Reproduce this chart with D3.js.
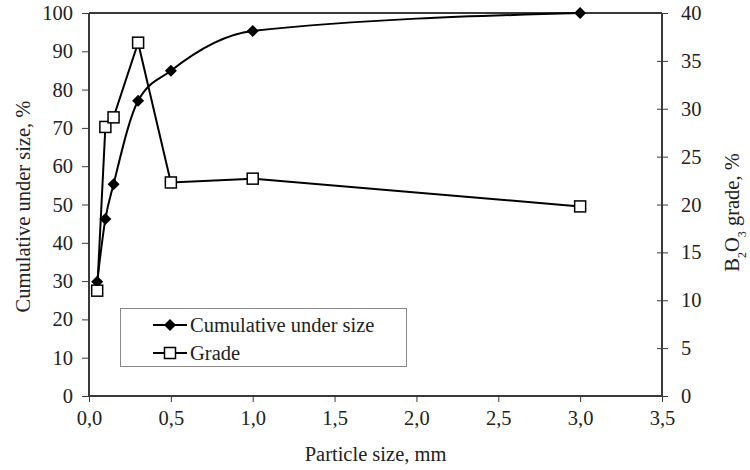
<!DOCTYPE html>
<html>
<head>
<meta charset="utf-8">
<script src="https://cdn.jsdelivr.net/npm/d3@7"></script>
<style>
  html, body { margin: 0; padding: 0; background: #fff; }
  svg { display: block; font-family: "Liberation Serif", "Times New Roman", serif; }
</style>
</head>
<body>
<svg id="chart" width="750" height="470"></svg>
<script>
// ---- data ----
const sizes = [0.05, 0.1, 0.15, 0.3, 0.5, 1.0, 3.0];
const cumulative = [29.8, 46.2, 55.3, 77.1, 84.9, 95.3, 100];
const grade = [11.0, 28.1, 29.1, 36.9, 22.3, 22.7, 19.8];
const xTicks = [0, 0.5, 1.0, 1.5, 2.0, 2.5, 3.0, 3.5];
const yLeftTicks = [0, 10, 20, 30, 40, 50, 60, 70, 80, 90, 100];
const yRightTicks = [0, 5, 10, 15, 20, 25, 30, 35, 40];
const seriesNames = ["Cumulative under size", "Grade"];

const svg = d3.select("#chart");
const L = 89, R = 662, T = 13, B = 396;
const axisColor = "#3a3a3a";
const textColor = "#222";
const fs = 20.5;

const x = d3.scaleLinear().domain([0, 3.5]).range([L, R]);
const yL = d3.scaleLinear().domain([0, 100]).range([B, T]);
const yR = d3.scaleLinear().domain([0, 40]).range([B, T]);

const commaFmt = v => d3.format(".1f")(v).replace(".", ",");

// Frame (top border)
svg.append("line").attr("x1", L).attr("x2", R).attr("y1", T).attr("y2", T)
  .attr("stroke", axisColor).attr("stroke-width", 2);

// X axis
const gx = svg.append("g").attr("transform", `translate(0,${B})`)
  .call(d3.axisBottom(x).tickValues(xTicks).tickFormat(commaFmt).tickSize(6).tickPadding(8));
// Left axis
const gyl = svg.append("g").attr("transform", `translate(${L},0)`)
  .call(d3.axisLeft(yL).tickValues(yLeftTicks).tickSize(7).tickPadding(9));
// Right axis (crossing ticks)
const gyr = svg.append("g").attr("transform", `translate(${R},0)`)
  .call(d3.axisRight(yR).tickValues(yRightTicks).tickSize(6).tickPadding(13));
gyr.selectAll(".tick line").attr("x1", -5);

[gx, gyl, gyr].forEach(g => {
  g.select(".domain").attr("stroke", axisColor).attr("stroke-width", 2);
  g.selectAll(".tick line").attr("stroke", axisColor).attr("stroke-width", 1);
  g.selectAll(".tick text").attr("fill", textColor)
    .style("font-size", fs + "px").style("font-family", "Liberation Serif, serif");
});
gx.select(".domain").attr("d", `M${L},0H${R}`);
gyl.select(".domain").attr("d", `M0,${B}V${T}`);
gyr.select(".domain").attr("d", `M0,${B}V${T}`);

// Grade line (straight)
const gradeLine = d3.line().x((d, i) => x(sizes[i])).y(d => yR(d));
svg.append("path").datum(grade).attr("d", gradeLine)
  .attr("fill", "none").attr("stroke", "#000").attr("stroke-width", 2);

// Cumulative line (smoothed)
const cumLine = d3.line().x((d, i) => x(sizes[i])).y(d => yL(d)).curve(d3.curveMonotoneX);
svg.append("path").datum(cumulative).attr("d", cumLine)
  .attr("fill", "none").attr("stroke", "#000").attr("stroke-width", 2);

// Markers
const diamond = (cx, cy, r) => `M${cx},${cy - r}L${cx + r},${cy}L${cx},${cy + r}L${cx - r},${cy}Z`;
svg.append("g").selectAll("path").data(cumulative).join("path")
  .attr("d", (d, i) => diamond(x(sizes[i]), yL(d), 6)).attr("fill", "#000");
const sq = 11;
svg.append("g").selectAll("rect").data(grade).join("rect")
  .attr("x", (d, i) => x(sizes[i]) - sq / 2).attr("y", d => yR(d) - sq / 2)
  .attr("width", sq).attr("height", sq)
  .attr("fill", "#fff").attr("stroke", "#000").attr("stroke-width", 1.5);

// Legend
const lg = svg.append("g");
lg.append("rect").attr("x", 120.5).attr("y", 308.5).attr("width", 286).attr("height", 58)
  .attr("fill", "#fff").attr("stroke", "#888").attr("stroke-width", 1);
const rows = [325, 353];
rows.forEach((ry, i) => {
  lg.append("line").attr("x1", 153).attr("x2", 187).attr("y1", ry).attr("y2", ry)
    .attr("stroke", "#000").attr("stroke-width", 2);
  if (i === 0) {
    lg.append("path").attr("d", diamond(170, ry, 6)).attr("fill", "#000");
  } else {
    lg.append("rect").attr("x", 170 - sq / 2).attr("y", ry - sq / 2).attr("width", sq).attr("height", sq)
      .attr("fill", "#fff").attr("stroke", "#000").attr("stroke-width", 1.5);
  }
  lg.append("text").attr("x", 190).attr("y", ry).attr("dy", "0.35em")
    .attr("fill", textColor).style("font-size", fs + "px").text(seriesNames[i]);
});

// Axis titles
svg.append("text").attr("x", (L + R) / 2).attr("y", 461).attr("text-anchor", "middle")
  .attr("fill", textColor).style("font-size", fs + "px").text("Particle size, mm");

svg.append("text").attr("transform", `translate(30,${(T + B) / 2 + 2}) rotate(-90)`)
  .attr("text-anchor", "middle").attr("fill", textColor).style("font-size", fs + "px")
  .text("Cumulative under size, %");

const rt = svg.append("text").attr("transform", `translate(739,${(T + B) / 2 + 8}) rotate(-90)`)
  .attr("text-anchor", "middle").attr("fill", textColor).style("font-size", fs + "px");
rt.append("tspan").text("B");
rt.append("tspan").attr("baseline-shift", "sub").style("font-size", "12px").text("2");
rt.append("tspan").text("O");
rt.append("tspan").attr("baseline-shift", "sub").style("font-size", "12px").text("3");
rt.append("tspan").text(" grade, %");
</script>
</body>
</html>
